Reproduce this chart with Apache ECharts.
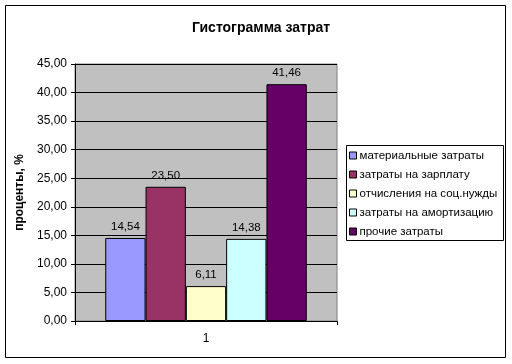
<!DOCTYPE html>
<html><head><meta charset="utf-8">
<script src="https://cdn.jsdelivr.net/npm/echarts@6/dist/echarts.min.js"></script>
<style>html,body{margin:0;padding:0;background:#fff}#c{width:512px;height:364px}</style>
</head><body><div id="c"></div>
<script>
const categories = ['1'];
const seriesNames = ['материальные затраты','затраты на зарплату','отчисления на соц.нужды','затраты на амортизацию','прочие затраты'];
const seriesValues = [[14.54],[23.50],[6.11],[14.38],[41.46]];
const seriesColors = ['#9999FF','#993366','#FFFFCC','#CCFFFF','#660066'];
const yTicks = {min:0, max:45, interval:5};
const fmt = v => Number(v).toFixed(2).replace('.', ',');
const FONT = 'Liberation Sans, Arial, sans-serif';

const chart = echarts.init(document.getElementById('c'), null, {renderer:'canvas'});
chart.setOption({
  animation:false,
  backgroundColor:'#fff',
  title:{text:'Гистограмма затрат', left:256, textAlign:'center', top:16,
    textStyle:{fontFamily:FONT, fontSize:14, fontWeight:'bold', color:'#000'}},
  graphic:[
    {type:'rect', shape:{x:5.5,y:5.5,width:500,height:352}, style:{fill:null, stroke:'#000', lineWidth:1}, silent:true, z:-10},
    {type:'rect', shape:{x:346.5,y:145.5,width:157,height:95}, style:{fill:'#fff', stroke:'#000', lineWidth:1}, silent:true, z:-5}
  ],
  legend:{orient:'vertical', left:349, top:149, itemWidth:7, itemHeight:7, itemGap:6,
    icon:'rect', padding:0,
    itemStyle:{borderColor:'#000', borderWidth:1},
    textStyle:{fontFamily:FONT, fontSize:11.5, color:'#000', padding:[0,0,0,-2], lineHeight:13},
    data:seriesNames},
  grid:{left:75, top:64, right:175, bottom:43, show:true, backgroundColor:'#C0C0C0', borderColor:'#808080', borderWidth:1},
  xAxis:{type:'category', data:categories,
    axisLine:{lineStyle:{color:'#000'}},
    axisTick:{show:true, length:4, lineStyle:{color:'#000'}},
    axisLabel:{fontFamily:FONT, fontSize:12, color:'#000', margin:12}},
  yAxis:{type:'value', min:yTicks.min, max:yTicks.max, interval:yTicks.interval,
    name:'проценты, %', nameLocation:'middle', nameGap:6, nameRotate:90,
    nameTextStyle:{fontFamily:FONT, fontSize:12, fontWeight:'bold', color:'#000'},
    axisLine:{show:true, lineStyle:{color:'#000'}},
    axisTick:{show:true, length:4, lineStyle:{color:'#000'}},
    axisLabel:{fontFamily:FONT, fontSize:12, color:'#000', margin:8, formatter:fmt},
    splitLine:{lineStyle:{color:'#000', width:1}}},
  series: seriesNames.map((n,i)=>({
    name:n, type:'bar', data:seriesValues[i], barWidth:40.3, barGap:'0%',
    itemStyle:{color:seriesColors[i], borderColor:'#000', borderWidth:1},
    label:{show:true, position:'top', distance:5, fontFamily:FONT, fontSize:11.5, color:'#000', formatter:p=>fmt(p.value)}
  }))
});
</script></body></html>
